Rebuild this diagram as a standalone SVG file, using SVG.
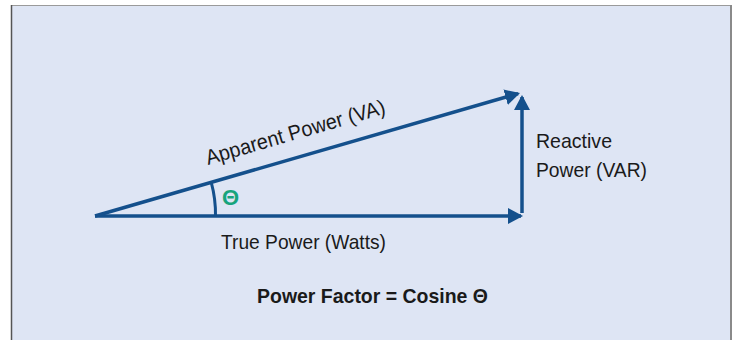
<svg xmlns="http://www.w3.org/2000/svg" width="732" height="340" viewBox="0 0 732 340">
<defs>
<style>
.lbl{font-family:"Liberation Sans",Arial,sans-serif;font-size:21px;fill:#1a1a1a}
.bold{font-weight:bold}
.vec{stroke:#14508c;stroke-width:3.5;fill:none}
</style>
<marker id="ah" markerUnits="userSpaceOnUse" markerWidth="20" markerHeight="20" viewBox="0 -10 20 20" refX="13" refY="0" orient="auto">
<path d="M0,-8 L15,0 L0,8 z" fill="#14508c"/>
</marker>
</defs>
<rect x="0" y="0" width="732" height="340" fill="#ffffff"/>
<g id="panel">
<rect x="11" y="5" width="720" height="340" fill="#dee5f4"/>
<line x1="11" y1="5.5" x2="731" y2="5.5" stroke="#9a9a9a" stroke-width="1"/>
<line x1="11.5" y1="5" x2="11.5" y2="340" stroke="#555" stroke-width="1.5"/>
<line x1="731" y1="5" x2="731" y2="340" stroke="#8a8a8a" stroke-width="2"/>
</g>
<g id="connectors">
<line id="true-power" class="vec" x1="95" y1="216" x2="521" y2="216" marker-end="url(#ah)"/>
<line id="reactive-power" class="vec" x1="522" y1="213" x2="522" y2="97" marker-end="url(#ah)"/>
<line id="apparent-power" class="vec" x1="95" y1="216" x2="518.1" y2="93.6" marker-end="url(#ah)"/>
<path id="angle-arc" d="M211.3,182.6 A120 120 0 0 1 215.5,216" stroke="#14508c" stroke-width="3" fill="none"/>
</g>
<g id="labels">
<text class="lbl" x="208" y="165" transform="rotate(-16.2 208 165)" textLength="186" lengthAdjust="spacingAndGlyphs">Apparent Power (VA)</text>
<text class="lbl" x="221" y="249" textLength="165" lengthAdjust="spacingAndGlyphs">True Power (Watts)</text>
<text class="lbl" x="536" y="148" textLength="76" lengthAdjust="spacingAndGlyphs">Reactive</text>
<text class="lbl" x="536" y="177" textLength="111" lengthAdjust="spacingAndGlyphs">Power (VAR)</text>
<text class="lbl bold" x="222" y="205" style="fill:#17a47c;font-size:22px">Θ</text>
<text class="lbl bold" x="257" y="303" textLength="231" lengthAdjust="spacingAndGlyphs">Power Factor = Cosine Θ</text>
</g>
</svg>
